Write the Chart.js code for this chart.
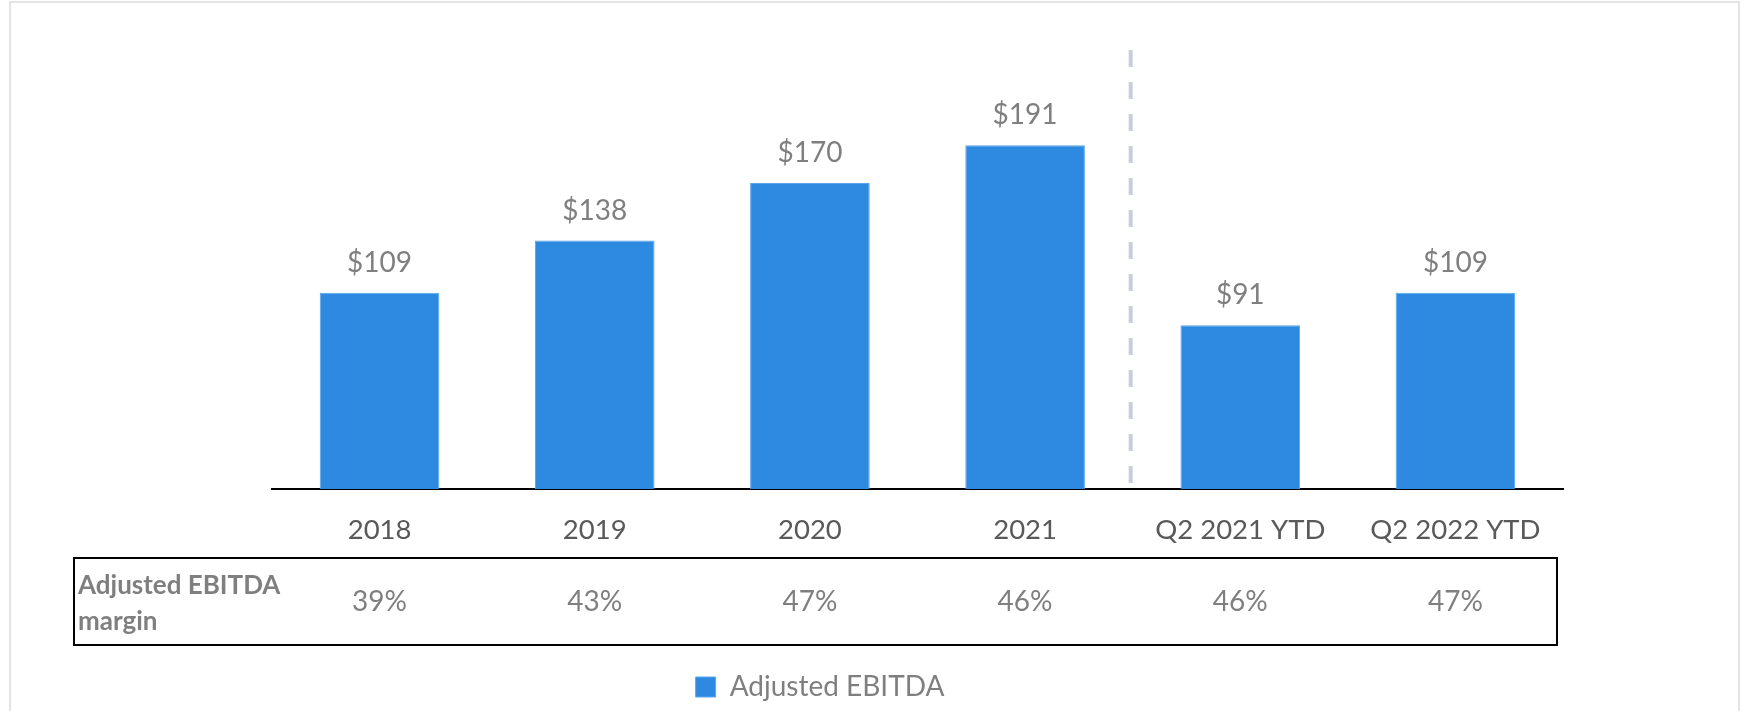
<!DOCTYPE html>
<html lang="en">
<head>
    <meta charset="UTF-8">
    <title>Adjusted EBITDA</title>
    <style>
        body { margin: 0; padding: 0; background-color: #fff; }
        canvas { display: block; }
    </style>
    <script src="https://cdn.jsdelivr.net/npm/chart.js"></script>
</head>
<body>

<canvas id="myChart" width="1741" height="711"></canvas>

<script>
    // Chart data
    const categories = ['2018', '2019', '2020', '2021', 'Q2 2021 YTD', 'Q2 2022 YTD'];
    const ebitdaValues = [109, 138, 170, 191, 91, 109];
    const ebitdaLabels = ['$109', '$138', '$170', '$191', '$91', '$109'];
    const marginLabels = ['39%', '43%', '47%', '46%', '46%', '47%'];
    const seriesName = 'Adjusted EBITDA';
    const marginTitle = ['Adjusted EBITDA', 'margin'];

    const FONT = 'Lato, Calibri, "Open Sans", sans-serif';

    // frame, dashed divider, value labels and the margin table
    const extrasPlugin = {
        id: 'extras',
        beforeDraw(chart) {
            const ctx = chart.ctx;
            ctx.save();
            ctx.strokeStyle = '#e4e4e4';
            ctx.lineWidth = 2;
            ctx.strokeRect(10, 2, 1729, 760);
            ctx.restore();
        },
        afterDatasetsDraw(chart) {
            const ctx = chart.ctx;
            const x = chart.scales.x;
            const meta = chart.getDatasetMeta(0);

            // dashed divider between annual and YTD
            const divX = (x.getPixelForValue(3) + x.getPixelForValue(4)) / 2 - 2;
            ctx.save();
            ctx.strokeStyle = '#c6cedb';
            ctx.lineWidth = 4;
            ctx.setLineDash([17, 15]);
            ctx.beginPath();
            ctx.moveTo(divX, 50);
            ctx.lineTo(divX, chart.chartArea.bottom - 4);
            ctx.stroke();
            ctx.restore();

            // value labels above bars
            ctx.save();
            ctx.font = '28px ' + FONT;
            ctx.fillStyle = '#7f7f7f';
            ctx.textAlign = 'center';
            ctx.textBaseline = 'middle';
            meta.data.forEach((bar, i) => {
                ctx.fillText(ebitdaLabels[i], bar.x, bar.y - 30);
            });
            ctx.restore();

            // margin table
            ctx.save();
            ctx.strokeStyle = '#000';
            ctx.lineWidth = 2;
            ctx.strokeRect(74, 558, 1483, 87);
            ctx.font = 'bold 26px ' + FONT;
            ctx.fillStyle = '#7f7f7f';
            ctx.textAlign = 'left';
            ctx.textBaseline = 'middle';
            ctx.fillText(marginTitle[0], 78, 586);
            ctx.fillText(marginTitle[1], 78, 622);
            ctx.font = '28px ' + FONT;
            ctx.textAlign = 'center';
            marginLabels.forEach((m, i) => {
                ctx.fillText(m, x.getPixelForValue(i), 602);
            });
            ctx.restore();
        }
    };

    const ctx = document.getElementById('myChart').getContext('2d');
    const myChart = new Chart(ctx, {
        type: 'bar',
        data: {
            labels: categories,
            datasets: [{
                label: seriesName,
                data: ebitdaValues,
                backgroundColor: '#2e8ae0',
                borderColor: '#5aa6ee',
                borderWidth: 1,
                categoryPercentage: 1,
                barPercentage: 0.556
            }]
        },
        options: {
            responsive: false,
            animation: false,
            layout: { padding: { left: 77, right: 178, top: 39, bottom: 0 } },
            scales: {
                x: {
                    grid: { display: true, drawOnChartArea: false, drawTicks: false },
                    border: { display: true, color: '#000', width: 2 },
                    ticks: { color: '#595959', font: { family: FONT, size: 27.5 }, padding: 25 },
                    afterFit(scale) { scale.height = 184; }
                },
                y: {
                    min: 0,
                    max: 250,
                    grid: { display: false },
                    border: { display: false },
                    ticks: { display: false },
                    afterFit(scale) { scale.width = 195; }
                }
            },
            plugins: {
                legend: {
                    position: 'bottom',
                    labels: {
                        color: '#7f7f7f',
                        font: { family: FONT, size: 28 },
                        boxWidth: 20,
                        boxHeight: 20,
                        padding: 0
                    }
                },
                tooltip: { enabled: false }
            }
        },
        plugins: [extrasPlugin]
    });
</script>

</body>
</html>
